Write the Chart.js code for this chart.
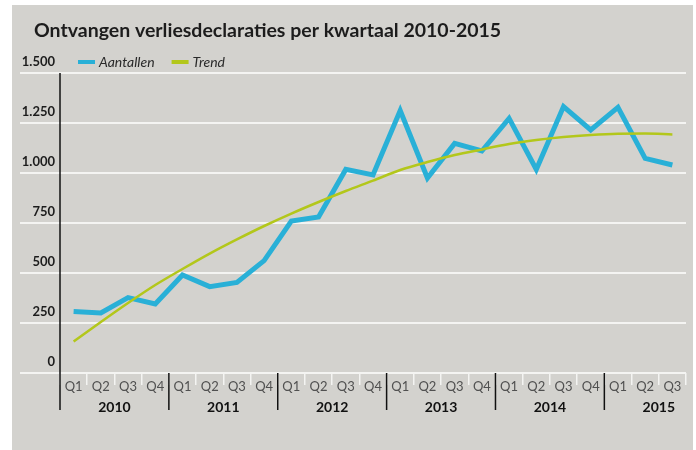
<!DOCTYPE html>
<html>
<head>
<meta charset="utf-8">
<script src="https://cdn.jsdelivr.net/npm/chart.js@4"></script>
<style>
  html, body { margin: 0; padding: 0; background: #ffffff; }
  #wrap { width: 696px; height: 450px; position: relative; }
</style>
</head>
<body>
<div id="wrap"><canvas id="c"></canvas></div>
<script>
// Ontvangen verliesdeclaraties per kwartaal, 2010 Q1 – 2015 Q3

const TITLE = 'Ontvangen verliesdeclaraties per kwartaal 2010-2015';
const quarterLabels = [
  'Q1', 'Q2', 'Q3', 'Q4',  'Q1', 'Q2', 'Q3', 'Q4',  'Q1', 'Q2', 'Q3', 'Q4',
  'Q1', 'Q2', 'Q3', 'Q4',  'Q1', 'Q2', 'Q3', 'Q4',  'Q1', 'Q2', 'Q3',
];
const years = ['2010', '2011', '2012', '2013', '2014', '2015'];
const aantallen = [
  307, 300, 377, 345,  490, 432, 453, 562,  760, 780, 1018, 990,
  1312, 975, 1148, 1110,  1273, 1018, 1332, 1215,  1328, 1073, 1040,
];
const trend = [
  157, 255, 350, 440,  520, 597, 668, 735,  797, 855, 910, 962,
  1015, 1055, 1090, 1118,  1145, 1165, 1180, 1190,  1196, 1197, 1193,
];
const yTicks = [0, 250, 500, 750, 1000, 1250, 1500];

const BLUE = '#29b0d7';
const GREEN = '#b3c71b';
const PANEL = '#d3d2ce';
const FONT = 'Lato';

const fmt = v => v.toLocaleString('nl-NL');

// panel, title, legend, year row and the long axis lines
const decor = {
  id: 'decor',
  beforeDraw(chart) {
    const { ctx } = chart;
    ctx.save();
    ctx.fillStyle = PANEL;
    ctx.fillRect(12, 5, 681, 445);
    ctx.restore();
  },
  afterDraw(chart) {
    const { ctx, chartArea: a, scales: { x } } = chart;
    ctx.save();
    ctx.fillStyle = '#1c1c1c';
    ctx.font = `bold 19.5px ${FONT}`;
    ctx.textBaseline = 'alphabetic';
    ctx.fillText(TITLE, 34, 37);

    // legend
    let lx = 78;
    ctx.font = `italic 14px ${FONT}`;
    ctx.textBaseline = 'middle';
    chart.data.datasets.slice().sort((p, q) => p.legendIndex - q.legendIndex).forEach(ds => {
      ctx.fillStyle = ds.borderColor;
      ctx.fillRect(lx, 60, 17, 4);
      ctx.fillStyle = '#2a2a2a';
      ctx.fillText(ds.label, lx + 21, 62);
      lx += 21 + ctx.measureText(ds.label).width + 17;
    });

    // year separators and year labels
    const step = x.getPixelForValue(1) - x.getPixelForValue(0);
    ctx.strokeStyle = '#111';
    ctx.lineWidth = 1.5;
    ctx.font = `bold 14px ${FONT}`;
    ctx.textAlign = 'center';
    ctx.fillStyle = '#111';
    years.forEach((yr, i) => {
      const left = x.getPixelForValue(i * 4) - step / 2;
      if (i > 0) {
        ctx.beginPath();
        ctx.moveTo(left, a.bottom);
        ctx.lineTo(left, a.bottom + 37);
        ctx.stroke();
      }
      ctx.fillText(yr, left + step * 2, a.bottom + 34);
    });

    // y axis line
    ctx.beginPath();
    ctx.moveTo(a.left, a.top);
    ctx.lineTo(a.left, a.bottom + 37);
    ctx.stroke();
    ctx.restore();
  },
};

new Chart(document.getElementById('c').getContext('2d'), {
  type: 'line',
  data: {
    labels: quarterLabels,
    datasets: [
      {
        label: 'Trend', data: trend, legendIndex: 1, order: 0,
        borderColor: GREEN, borderWidth: 2.5, pointRadius: 0,
        tension: 0.4, cubicInterpolationMode: 'monotone', fill: false,
      },
      {
        label: 'Aantallen', data: aantallen, legendIndex: 0, order: 1,
        borderColor: BLUE, borderWidth: 5, pointRadius: 0,
        tension: 0, borderJoinStyle: 'miter', fill: false,
      },
    ],
  },
  options: {
    responsive: true, maintainAspectRatio: false, animation: false,
    layout: { padding: { top: 73, right: 10, left: 0, bottom: 0 } },
    plugins: { legend: { display: false }, title: { display: false }, tooltip: { enabled: false } },
    scales: {
      x: {
        type: 'category', offset: true,
        afterFit: s => { s.height = 77; },
        border: { display: false },
        grid: {
          offset: true, drawOnChartArea: false, drawTicks: true, tickLength: 12,
          color: '#f4f4f2', lineWidth: 1.5,
        },
        ticks: {
          color: '#505050', font: { family: FONT, size: 13 },
          maxRotation: 0, autoSkip: false, padding: -6,
        },
      },
      y: {
        min: 0, max: 1500,
        afterFit: s => { s.width = 60; },
        afterBuildTicks: s => { s.ticks = yTicks.map(v => ({ value: v })); },
        border: { display: false },
        grid: { color: '#f4f4f2', lineWidth: 2, tickLength: 40 },
        ticks: {
          color: '#1c1c1c', font: { family: FONT, size: 13, weight: 'bold' },
          padding: -35, labelOffset: -11, callback: v => fmt(v),
        },
      },
    },
  },
  plugins: [decor],
});
</script>
</body>
</html>
